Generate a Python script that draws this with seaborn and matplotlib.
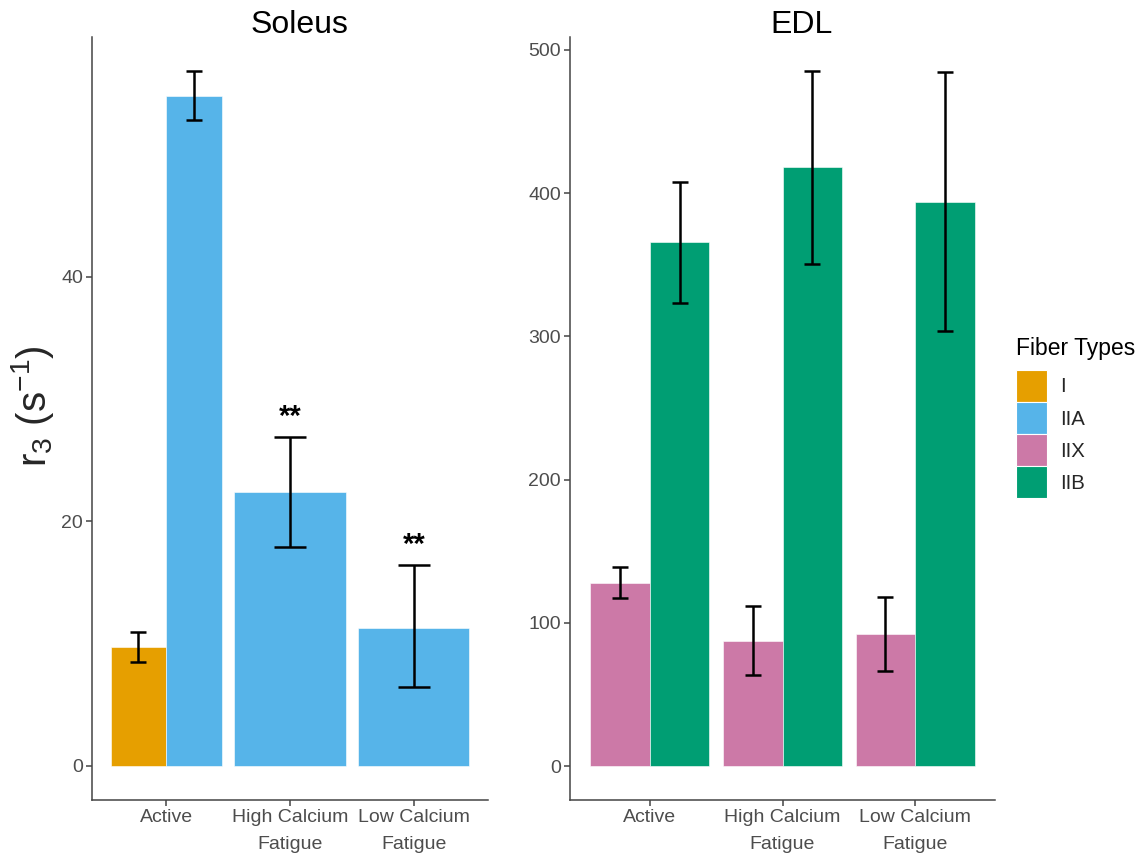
import numpy as np
import pandas as pd
import matplotlib.pyplot as plt
import seaborn as sns
from matplotlib.patches import Patch

# values
conditions = ['Active', 'High Calcium\nFatigue', 'Low Calcium\nFatigue']
fiber_types = ['I', 'IIA', 'IIX', 'IIB']
fiber_colors = ['#E69F00', '#56B4E9', '#CC79A7', '#009E73']

soleus_condition = ['Active', 'Active', 'High Calcium\nFatigue', 'Low Calcium\nFatigue']
soleus_fiber = ['I', 'IIA', 'IIA', 'IIA']
soleus_mean = [9.7, 54.8, 22.4, 11.3]
soleus_low = [8.45, 52.85, 17.9, 6.45]
soleus_high = [10.95, 56.8, 26.85, 16.4]
soleus_mark = ['', '', '**', '**']

edl_condition = ['Active', 'Active', 'High Calcium\nFatigue', 'High Calcium\nFatigue',
                 'Low Calcium\nFatigue', 'Low Calcium\nFatigue']
edl_fiber = ['IIX', 'IIB', 'IIX', 'IIB', 'IIX', 'IIB']
edl_mean = [127.9, 365.8, 87.6, 417.9, 92.5, 393.9]
edl_low = [117.4, 323.5, 63.9, 350.6, 66.7, 303.4]
edl_high = [138.7, 408.1, 111.6, 485.2, 117.9, 484.3]
edl_mark = [''] * 6

palette = dict(zip(fiber_types, fiber_colors))

sns.set_theme(style='ticks')
plt.rcParams['font.family'] = ['Liberation Sans', 'DejaVu Sans']
plt.rcParams['mathtext.fontset'] = 'custom'
plt.rcParams['mathtext.rm'] = 'Liberation Sans'

DPI = 100
fig = plt.figure(figsize=(11.45, 8.58), dpi=DPI)
ax1 = fig.add_axes([92 / 1145, 58 / 858, 396 / 1145, 763 / 858])
ax2 = fig.add_axes([570 / 1145, 58 / 858, 425 / 1145, 763 / 858])


def dodge_table(condition, fiber, mean, low, high, mark):
    df = pd.DataFrame({'condition': condition, 'fiber': fiber, 'mean': mean,
                       'low': low, 'high': high, 'mark': mark})
    # ggplot-style dodge: bars of one condition share a 0.9 wide slot
    df['n'] = df.groupby('condition')['fiber'].transform('size')
    df['slot'] = df.groupby('condition').cumcount()
    df['width'] = 0.9 / df['n']
    df['x'] = (df['condition'].map(conditions.index) - 0.45
               + df['width'] * (df['slot'] + 0.5))
    return df


def draw_panel(ax, df, title, title_x, ylim, yticks):
    for w, sub in df.groupby('width'):
        xs = np.unique(sub['x'])
        unit = np.diff(xs).min() if len(xs) > 1 else 1
        sns.barplot(data=sub, x='x', y='mean', hue='fiber', palette=palette,
                    native_scale=True, dodge=False, width=w / unit, errorbar=None,
                    saturation=1, legend=False, edgecolor='white', linewidth=0.4, ax=ax)

    ax.set_xlim(-0.6, 2.6)
    ax.set_ylim(*ylim)
    px_per_unit = ax.get_position().width * fig.get_figwidth() * DPI / 3.2
    for _, r in df.iterrows():
        cap = 0.28 * r['width'] * px_per_unit / 2 * 72 / DPI
        ax.errorbar(r['x'], r['mean'], yerr=[[r['mean'] - r['low']], [r['high'] - r['mean']]],
                    fmt='none', ecolor='black', elinewidth=1.8, capsize=cap, capthick=1.8)
        if r['mark']:
            ax.text(r['x'], r['high'] + (ylim[1] - ylim[0]) * 0.008, r['mark'],
                    ha='center', va='bottom', fontsize=21, fontweight='bold', color='black')

    ax.set_xticks(range(len(conditions)), conditions, linespacing=1.8)
    ax.set_yticks(yticks)
    ax.set_xlabel('')
    ax.set_ylabel('')
    ax.text(title_x, 1.005, title, transform=ax.transAxes, ha='center', va='baseline',
            fontsize=23, color='black')
    sns.despine(ax=ax)
    for s in ['left', 'bottom']:
        ax.spines[s].set_color('#444444')
        ax.spines[s].set_linewidth(1.1)
    ax.tick_params(labelsize=14, labelcolor='#4D4D4D', color='#444444',
                   length=4, width=1.1, pad=2.5)


soleus = dodge_table(soleus_condition, soleus_fiber, soleus_mean, soleus_low,
                     soleus_high, soleus_mark)
edl = dodge_table(edl_condition, edl_fiber, edl_mean, edl_low, edl_high, edl_mark)

draw_panel(ax1, soleus, 'Soleus', 0.523, (-2.8, 59.6), [0, 20, 40])
draw_panel(ax2, edl, 'EDL', 0.546, (-23.7, 509), [0, 100, 200, 300, 400, 500])

ax1.set_ylabel(r'r$_\mathregular{3}$ (s$^\mathregular{-1}$)', fontsize=29)
ax1.yaxis.label.set_va('center')
ax1.yaxis.set_label_coords((32 - 92) / 396, 0.516)

handles = [Patch(facecolor=c, edgecolor='white', linewidth=0.8) for c in fiber_colors]
fig.legend(handles, fiber_types, loc='upper left', bbox_to_anchor=(1016 / 1145, 1 - 370 / 858),
           frameon=False, fontsize=14.7, handlelength=1.52, handleheight=2.04,
           labelspacing=0, handletextpad=0.64, borderpad=0, borderaxespad=0)
fig.text(1016 / 1145, 1 - 355 / 858, 'Fiber Types', ha='left', va='baseline',
         fontsize=16.5, color='black')

fig.savefig('out.png', dpi=DPI)
